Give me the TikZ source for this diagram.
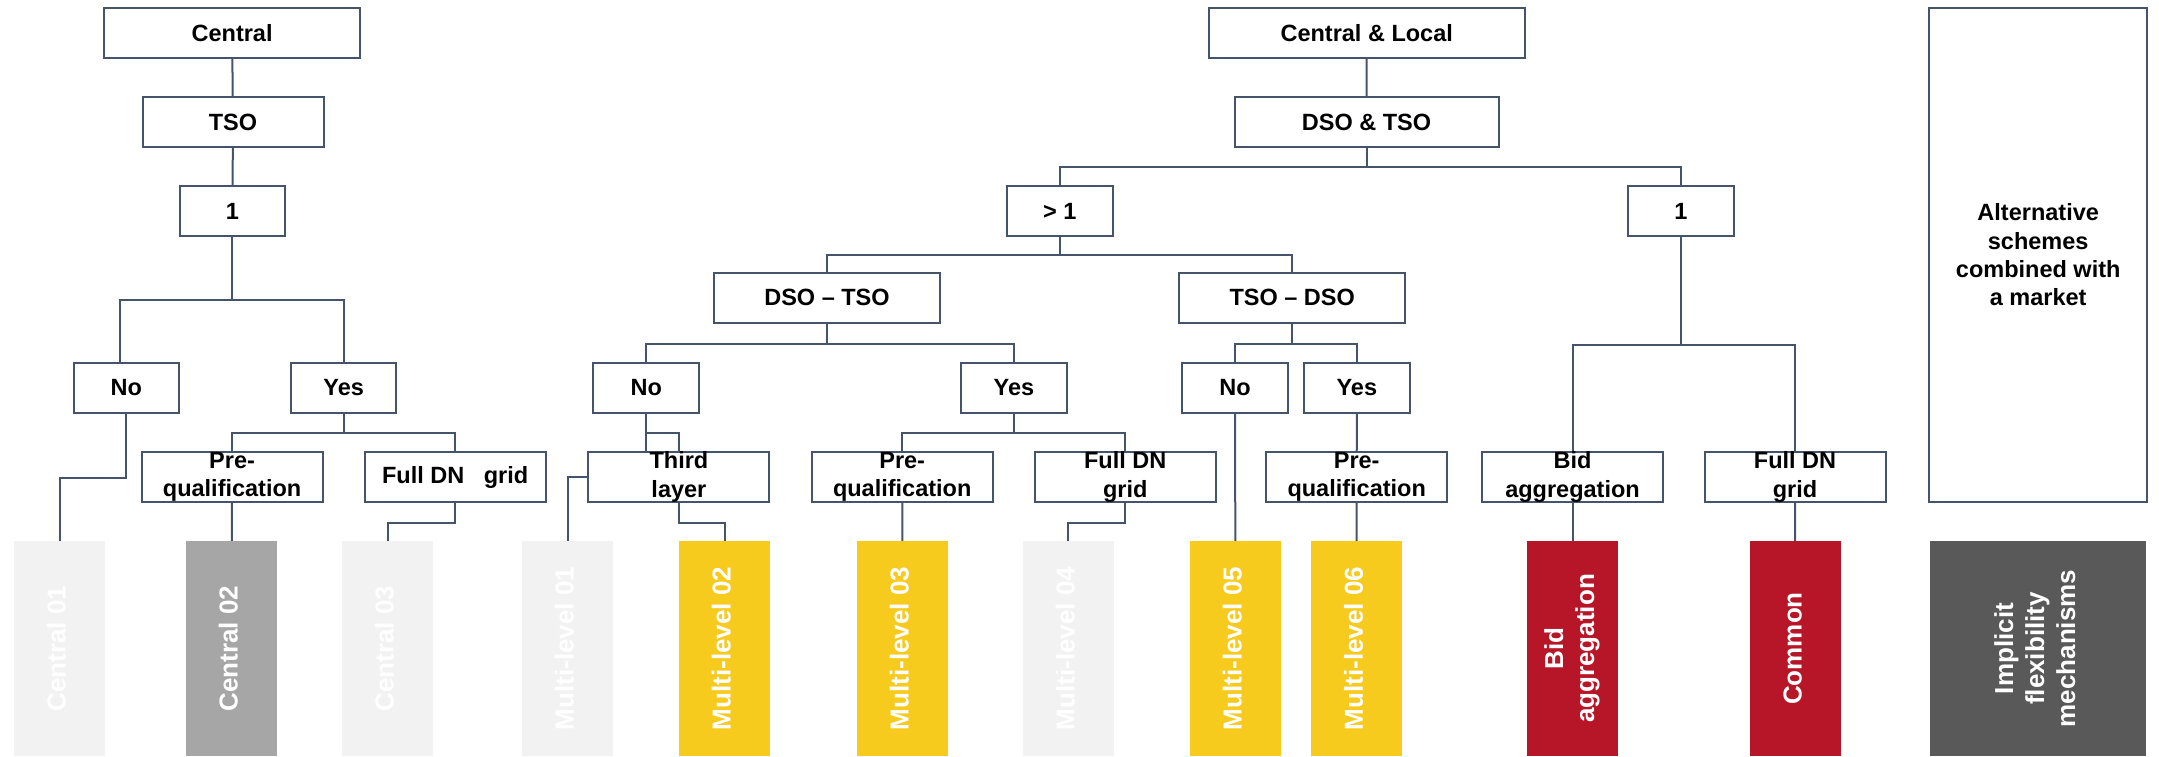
\documentclass[tikz,border=0pt]{standalone}
\usepackage{fontspec}
\setmainfont{Liberation Sans}
\usepackage{graphicx}
\usepackage{tikz}
\usetikzlibrary{positioning}

\definecolor{linecol}{HTML}{44546A}
\definecolor{lightbar}{HTML}{F2F2F2}
\definecolor{greybar}{HTML}{A6A6A6}
\definecolor{yellowbar}{HTML}{F7CA1E}
\definecolor{redbar}{HTML}{B71528}
\definecolor{darkbar}{HTML}{595959}

\newcommand{\bartext}[1]{\rotatebox{90}{\begin{tabular}{@{}c@{}}#1\end{tabular}}}

\begin{document}
\begin{tikzpicture}[x=1pt,y=-1pt,
    box node/.style={draw=linecol,line width=2pt,fill=white,align=center,inner sep=0pt,
                     minimum height=50pt,font=\fontsize{23.5}{28.2}\selectfont\bfseries},
    small node/.style={box node,minimum width=105.5pt},
    mid node/.style={box node,minimum width=181pt},
    bar node/.style={inner sep=0pt,minimum width=91pt,minimum height=215pt,text=white,
                     font=\fontsize{26}{31}\selectfont\bfseries},
    link/.style={draw=linecol,line width=2pt}]
\useasboundingbox (0,0) rectangle (2159,756);

% central tree
\node[box node,minimum width=256pt] (central) at (232.1,32.9) {Central};
\node[mid node] (tso) at (233,122.2) {TSO};
\node[small node] (one1) at (232.4,211.3) {1};
\node[small node] (no1) at (126.3,387.7) {No};
\node[small node] (yes1) at (343.7,387.7) {Yes};
\node[mid node] (pq1) at (232.1,477) {Pre-\\qualification};
\node[mid node] (fg1) at (455.2,477) {Full DN\hspace{13pt} grid};

% central & local tree
\node[box node,minimum width=316pt] (cl) at (1366.7,32.9) {Central \& Local};
\node[box node,minimum width=264pt] (dsotso) at (1366.5,122) {DSO \& TSO};
\node[small node] (gt1) at (1059.8,211.2) {> 1};
\node[small node] (one2) at (1680.9,211.2) {1};
\node[box node,minimum width=226pt] (dt) at (827,297.8) {DSO – TSO};
\node[box node,minimum width=226pt] (td) at (1292.2,297.8) {TSO – DSO};
\node[small node] (no2) at (646.2,387.7) {No};
\node[small node] (yes2) at (1013.9,387.7) {Yes};
\node[small node] (no3) at (1235.1,387.7) {No};
\node[small node] (yes3) at (1356.8,387.7) {Yes};
\node[mid node] (third) at (678.9,477) {Third\\layer};
\node[mid node] (pq2) at (902.2,477) {Pre-\\qualification};
\node[mid node] (fg2) at (1125.2,477) {Full DN\\grid};
\node[mid node] (pq3) at (1356.7,477) {Pre-\\qualification};
\node[mid node] (bid) at (1572.5,477) {Bid\\aggregation};
\node[mid node] (fg3) at (1795,477) {Full DN\\grid};

% alternative
\node[box node,minimum width=217.5pt,minimum height=493.7pt] (alt) at (2038.2,254.8)
    {Alternative\\schemes\\combined with\\a market};

% result bars
\node[bar node,fill=lightbar] (c01) at (59.5,648.5) {\bartext{Central 01}};
\node[bar node,fill=greybar] (c02) at (231.4,648.5) {\bartext{Central 02}};
\node[bar node,fill=lightbar] (c03) at (387.5,648.5) {\bartext{Central 03}};
\node[bar node,fill=lightbar] (m01) at (567.5,648.5) {\bartext{Multi-level 01}};
\node[bar node,fill=yellowbar] (m02) at (724.5,648.5) {\bartext{Multi-level 02}};
\node[bar node,fill=yellowbar] (m03) at (902.5,648.5) {\bartext{Multi-level 03}};
\node[bar node,fill=lightbar] (m04) at (1068.4,648.5) {\bartext{Multi-level 04}};
\node[bar node,fill=yellowbar] (m05) at (1235.4,648.5) {\bartext{Multi-level 05}};
\node[bar node,fill=yellowbar] (m06) at (1356.6,648.5) {\bartext{Multi-level 06}};
\node[bar node,fill=redbar] (bidagg) at (1572.5,648.5) {\bartext{Bid\\aggregation}};
\node[bar node,fill=redbar] (common) at (1795.5,648.5) {\bartext{Common}};
\node[bar node,fill=darkbar,minimum width=216pt] (implicit) at (2038,648.5)
    {\bartext{Implicit\\flexibility\\mechanisms}};

% connectors, central
\draw[link] (central) -- (tso);
\draw[link] (tso) -- (one1);
\draw[link] (one1.south) -- ++(0,63) -| ([xshift=-6.4pt]no1.north);
\draw[link] (one1.south) -- ++(0,63) -| (yes1.north);
\draw[link] (no1.south) -- ++(0,64.3) -| (c01.north);
\draw[link] (yes1.south) -- ++(0,19.5) -| (pq1.north);
\draw[link] (yes1.south) -- ++(0,19.5) -| (fg1.north);
\draw[link] (pq1) -- (c02);
\draw[link] (fg1.south) -- ++(0,19.8) -| (c03.north);

% connectors, central & local
\draw[link] (cl) -- (dsotso);
\draw[link] (dsotso.south) -- ++(0,19.3) -| (gt1.north);
\draw[link] (dsotso.south) -- ++(0,19.3) -| (one2.north);
\draw[link] (gt1.south) -- ++(0,18) -| (dt.north);
\draw[link] (gt1.south) -- ++(0,18) -| (td.north);
\draw[link] (dt.south) -- ++(0,19.7) -| (no2.north);
\draw[link] (dt.south) -- ++(0,19.7) -| (yes2.north);
\draw[link] (td.south) -- ++(0,19.7) -| (no3.north);
\draw[link] (td.south) -- ++(0,19.7) -| (yes3.north);
\draw[link] (no2.south) -- (no2.south |- third.north);
\draw[link] (no2.south) -- ++(0,19.5) -| (third.north);
\draw[link] (third.west) -| (m01.north);
\draw[link] (third.south) -- ++(0,19.7) -| (m02.north);
\draw[link] (yes2.south) -- ++(0,19.5) -| (pq2.north);
\draw[link] (yes2.south) -- ++(0,19.5) -| (fg2.north);
\draw[link] (pq2) -- (m03);
\draw[link] (fg2.south) -- ++(0,19.7) -| (m04.north);
\draw[link] (no3) -- (m05);
\draw[link] (yes3) -- (pq3);
\draw[link] (pq3) -- (m06);
\draw[link] (one2.south) -- ++(0,107.5) -| (bid.north);
\draw[link] (one2.south) -- ++(0,107.5) -| (fg3.north);
\draw[link] (bid) -- (bidagg);
\draw[link] (fg3) -- (common);
\end{tikzpicture}
\end{document}
